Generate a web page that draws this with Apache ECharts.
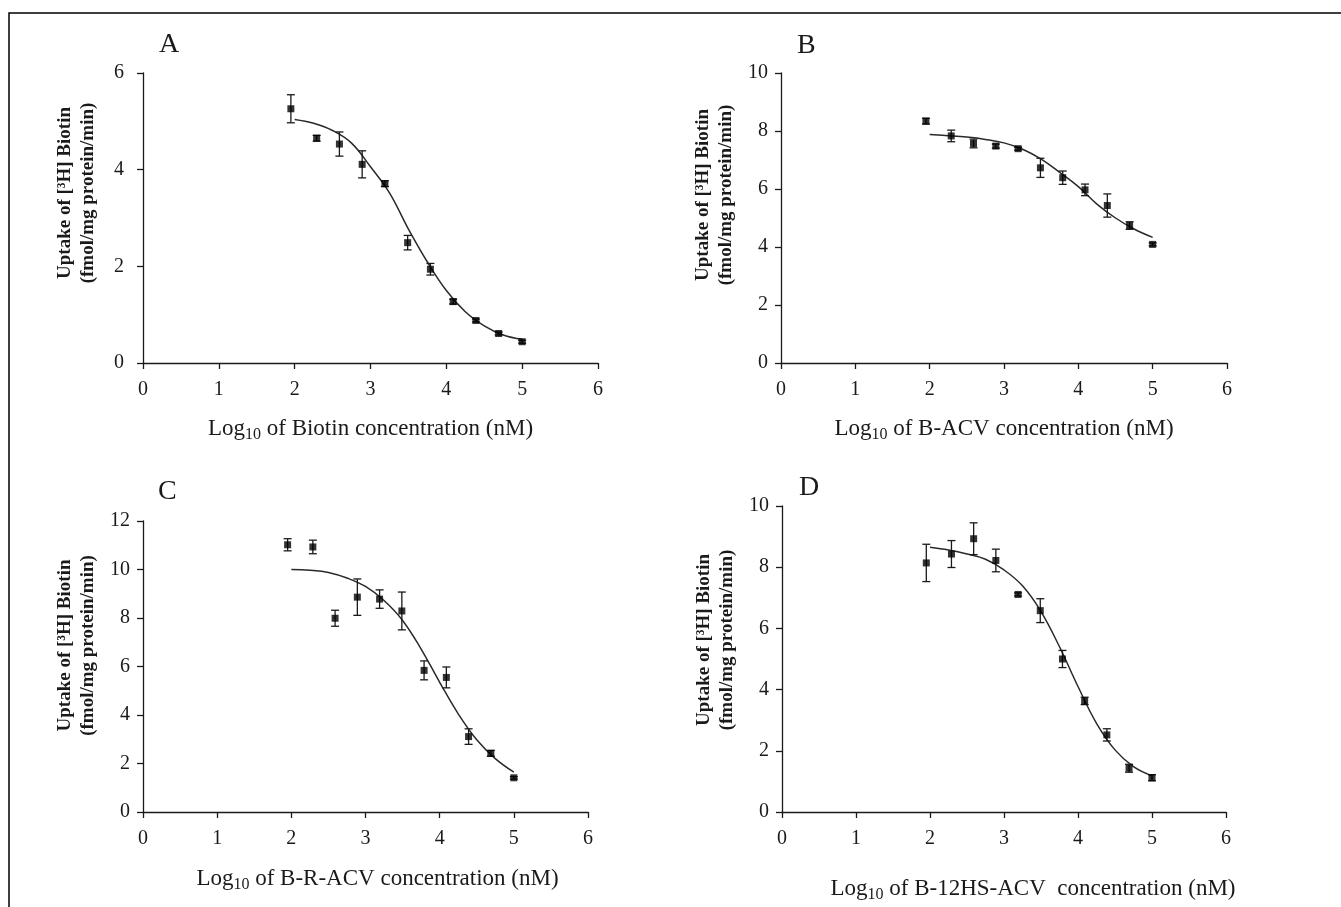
<!DOCTYPE html>
<html>
<head>
<meta charset="utf-8">
<script src="https://cdn.jsdelivr.net/npm/echarts@6/dist/echarts.min.js"></script>
<style>
  html, body { margin: 0; padding: 0; background: #fff; }
  #chart { width: 1341px; height: 907px; }
</style>
</head>
<body>
<div id="chart"></div>
<script>
// log10 of competitor concentration (nM), same for all four panels
const logConc = [1.95, 2.29, 2.59, 2.89, 3.19, 3.49, 3.79, 4.09, 4.39, 4.69, 5.0];
const fitX = [2.0, 2.25, 2.5, 2.75, 3.0, 3.25, 3.5, 3.75, 4.0, 4.25, 4.5, 4.75, 5.0];

// A: Biotin
const uptakeA = [5.26, 4.65, 4.53, 4.11, 3.71, 2.49, 1.94, 1.27, 0.88, 0.61, 0.44];
const errA = [0.29, 0.06, 0.25, 0.28, 0.06, 0.15, 0.12, 0.05, 0.03, 0.03, 0.03];
const fitA = [5.04, 4.96, 4.81, 4.55, 4.06, 3.52, 2.77, 2.09, 1.50, 1.06, 0.77, 0.58, 0.49];

// B: B-ACV
const uptakeB = [8.34, 7.83, 7.57, 7.48, 7.39, 6.73, 6.39, 5.97, 5.43, 4.74, 4.09];
const errB = [0.1, 0.2, 0.15, 0.07, 0.05, 0.33, 0.23, 0.2, 0.4, 0.13, 0.05];
const fitB = [7.88, 7.84, 7.79, 7.71, 7.59, 7.37, 7.03, 6.57, 6.08, 5.48, 5.0, 4.62, 4.33];

// C: B-R-ACV
const uptakeC = [11.02, 10.93, 7.99, 8.86, 8.78, 8.29, 5.84, 5.55, 3.11, 2.42, 1.41];
const errC = [0.25, 0.28, 0.33, 0.75, 0.38, 0.78, 0.39, 0.43, 0.32, 0.12, 0.05];
const fitC = [10.0, 9.97, 9.88, 9.65, 9.3, 8.72, 7.9, 6.72, 5.35, 4.05, 2.98, 2.2, 1.64];

// D: B-12HS-ACV
const uptakeD = [8.14, 8.43, 8.93, 8.22, 7.11, 6.58, 5.0, 3.63, 2.52, 1.43, 1.12];
const errD = [0.61, 0.44, 0.52, 0.37, 0.05, 0.39, 0.28, 0.12, 0.2, 0.13, 0.1];
const fitD = [8.65, 8.56, 8.43, 8.26, 7.91, 7.39, 6.55, 5.40, 4.10, 2.90, 2.03, 1.48, 1.18];

const panelLetters = ['A', 'B', 'C', 'D'];
const compounds = ['Biotin', 'B-ACV', 'B-R-ACV', 'B-12HS-ACV '];
const yMax = [6, 10, 12, 10];

const serif = "'Liberation Serif', 'Times New Roman', serif";
const ink = '#1a1a1a';

const panels = [
  { grid: { left: 143, top: 73, width: 455, height: 290 }, letter: [170, 46], labelMargin: 19, xGap: 52, xShift: 0, yShift: 50, uptake: uptakeA, err: errA, fit: fitA },
  { grid: { left: 781, top: 73, width: 446, height: 290 }, letter: [808, 47], labelMargin: 13, xGap: 52, xShift: 0, yShift: 46, uptake: uptakeB, err: errB, fit: fitB },
  { grid: { left: 143, top: 521, width: 445, height: 291 }, letter: [169, 493], labelMargin: 13, xGap: 53, xShift: 24, yShift: 42, uptake: uptakeC, err: errC, fit: fitC },
  { grid: { left: 782, top: 506, width: 444, height: 306 }, letter: [810, 489], labelMargin: 13, xGap: 63, xShift: 58, yShift: 38, uptake: uptakeD, err: errD, fit: fitD },
];

function errorBar(params, api) {
  const x = api.value(0), y = api.value(1), e = api.value(2);
  const hi = api.coord([x, y + e]);
  const lo = api.coord([x, y - e]);
  const cap = 4;
  const style = { stroke: ink, lineWidth: 1.3 };
  return {
    type: 'group',
    children: [
      { type: 'line', shape: { x1: hi[0], y1: hi[1], x2: lo[0], y2: lo[1] }, style },
      { type: 'line', shape: { x1: hi[0] - cap, y1: hi[1], x2: hi[0] + cap, y2: hi[1] }, style },
      { type: 'line', shape: { x1: lo[0] - cap, y1: lo[1], x2: lo[0] + cap, y2: lo[1] }, style },
    ],
  };
}

const axisLine = { lineStyle: { color: ink, width: 1.3 } };
const axisTick = { length: 6, lineStyle: { color: ink, width: 1.3 } };
const tickFont = { color: ink, fontFamily: serif, fontSize: 20 };

const grid = [], xAxis = [], yAxis = [], series = [], graphic = [];

panels.forEach((p, i) => {
  grid.push(p.grid);
  xAxis.push({
    type: 'value', gridIndex: i, min: 0, max: 6, interval: 1,
    axisLine, axisTick, splitLine: { show: false },
    axisLabel: Object.assign({ margin: 17 }, tickFont),
    name: 'Log{sub|10} of ' + compounds[i] + ' concentration (nM)',
    nameLocation: 'middle', nameGap: p.xGap, nameMoveOverlap: false,
    nameTextStyle: {
      color: ink, fontFamily: serif, fontSize: 23,
      padding: [0, 0, 0, p.xShift],
      rich: {
        sub: { fontFamily: serif, fontSize: 16, color: ink, padding: [12, 0, 0, 0] },
      },
    },
  });
  yAxis.push({
    type: 'value', gridIndex: i, min: 0, max: yMax[i], interval: 2,
    axisLine: Object.assign({ show: true }, axisLine), axisTick: Object.assign({ show: true }, axisTick),
    splitLine: { show: false },
    axisLabel: Object.assign({ margin: p.labelMargin }, tickFont),
    name: 'Uptake of [³H] Biotin\n(fmol/mg protein/min)',
    nameLocation: 'middle', nameRotate: 90, nameGap: 43, nameMoveOverlap: false,
    nameTextStyle: {
      color: ink, fontFamily: serif, fontSize: 19, fontWeight: 'bold', lineHeight: 23,
      padding: [0, 0, 0, p.yShift],
    },
  });
  series.push({
    type: 'line', xAxisIndex: i, yAxisIndex: i,
    data: fitX.map((x, k) => [x, p.fit[k]]),
    smooth: 0.4, showSymbol: false, symbol: 'none',
    lineStyle: { color: '#2a2a2a', width: 1.5 }, z: 2, silent: true,
  });
  series.push({
    type: 'custom', xAxisIndex: i, yAxisIndex: i,
    data: logConc.map((x, k) => [x, p.uptake[k], p.err[k]]),
    renderItem: errorBar, z: 3, silent: true,
  });
  series.push({
    type: 'scatter', xAxisIndex: i, yAxisIndex: i,
    data: logConc.map((x, k) => [x, p.uptake[k]]),
    symbol: 'rect', symbolSize: 7,
    itemStyle: { color: '#000' }, z: 4, silent: true,
  });
  graphic.push({
    type: 'text', left: p.letter[0] - 11, top: p.letter[1] - 15,
    style: { text: panelLetters[i], fill: ink, font: '28px ' + serif },
  });
});

graphic.push({
  type: 'rect', shape: { x: 9, y: 13, width: 1400, height: 1000 },
  style: { fill: 'none', stroke: '#000', lineWidth: 1.5 },
});

const chart = echarts.init(document.getElementById('chart'));
chart.setOption({
  backgroundColor: '#fff',
  animation: false,
  grid, xAxis, yAxis, series, graphic,
});
</script>
</body>
</html>
